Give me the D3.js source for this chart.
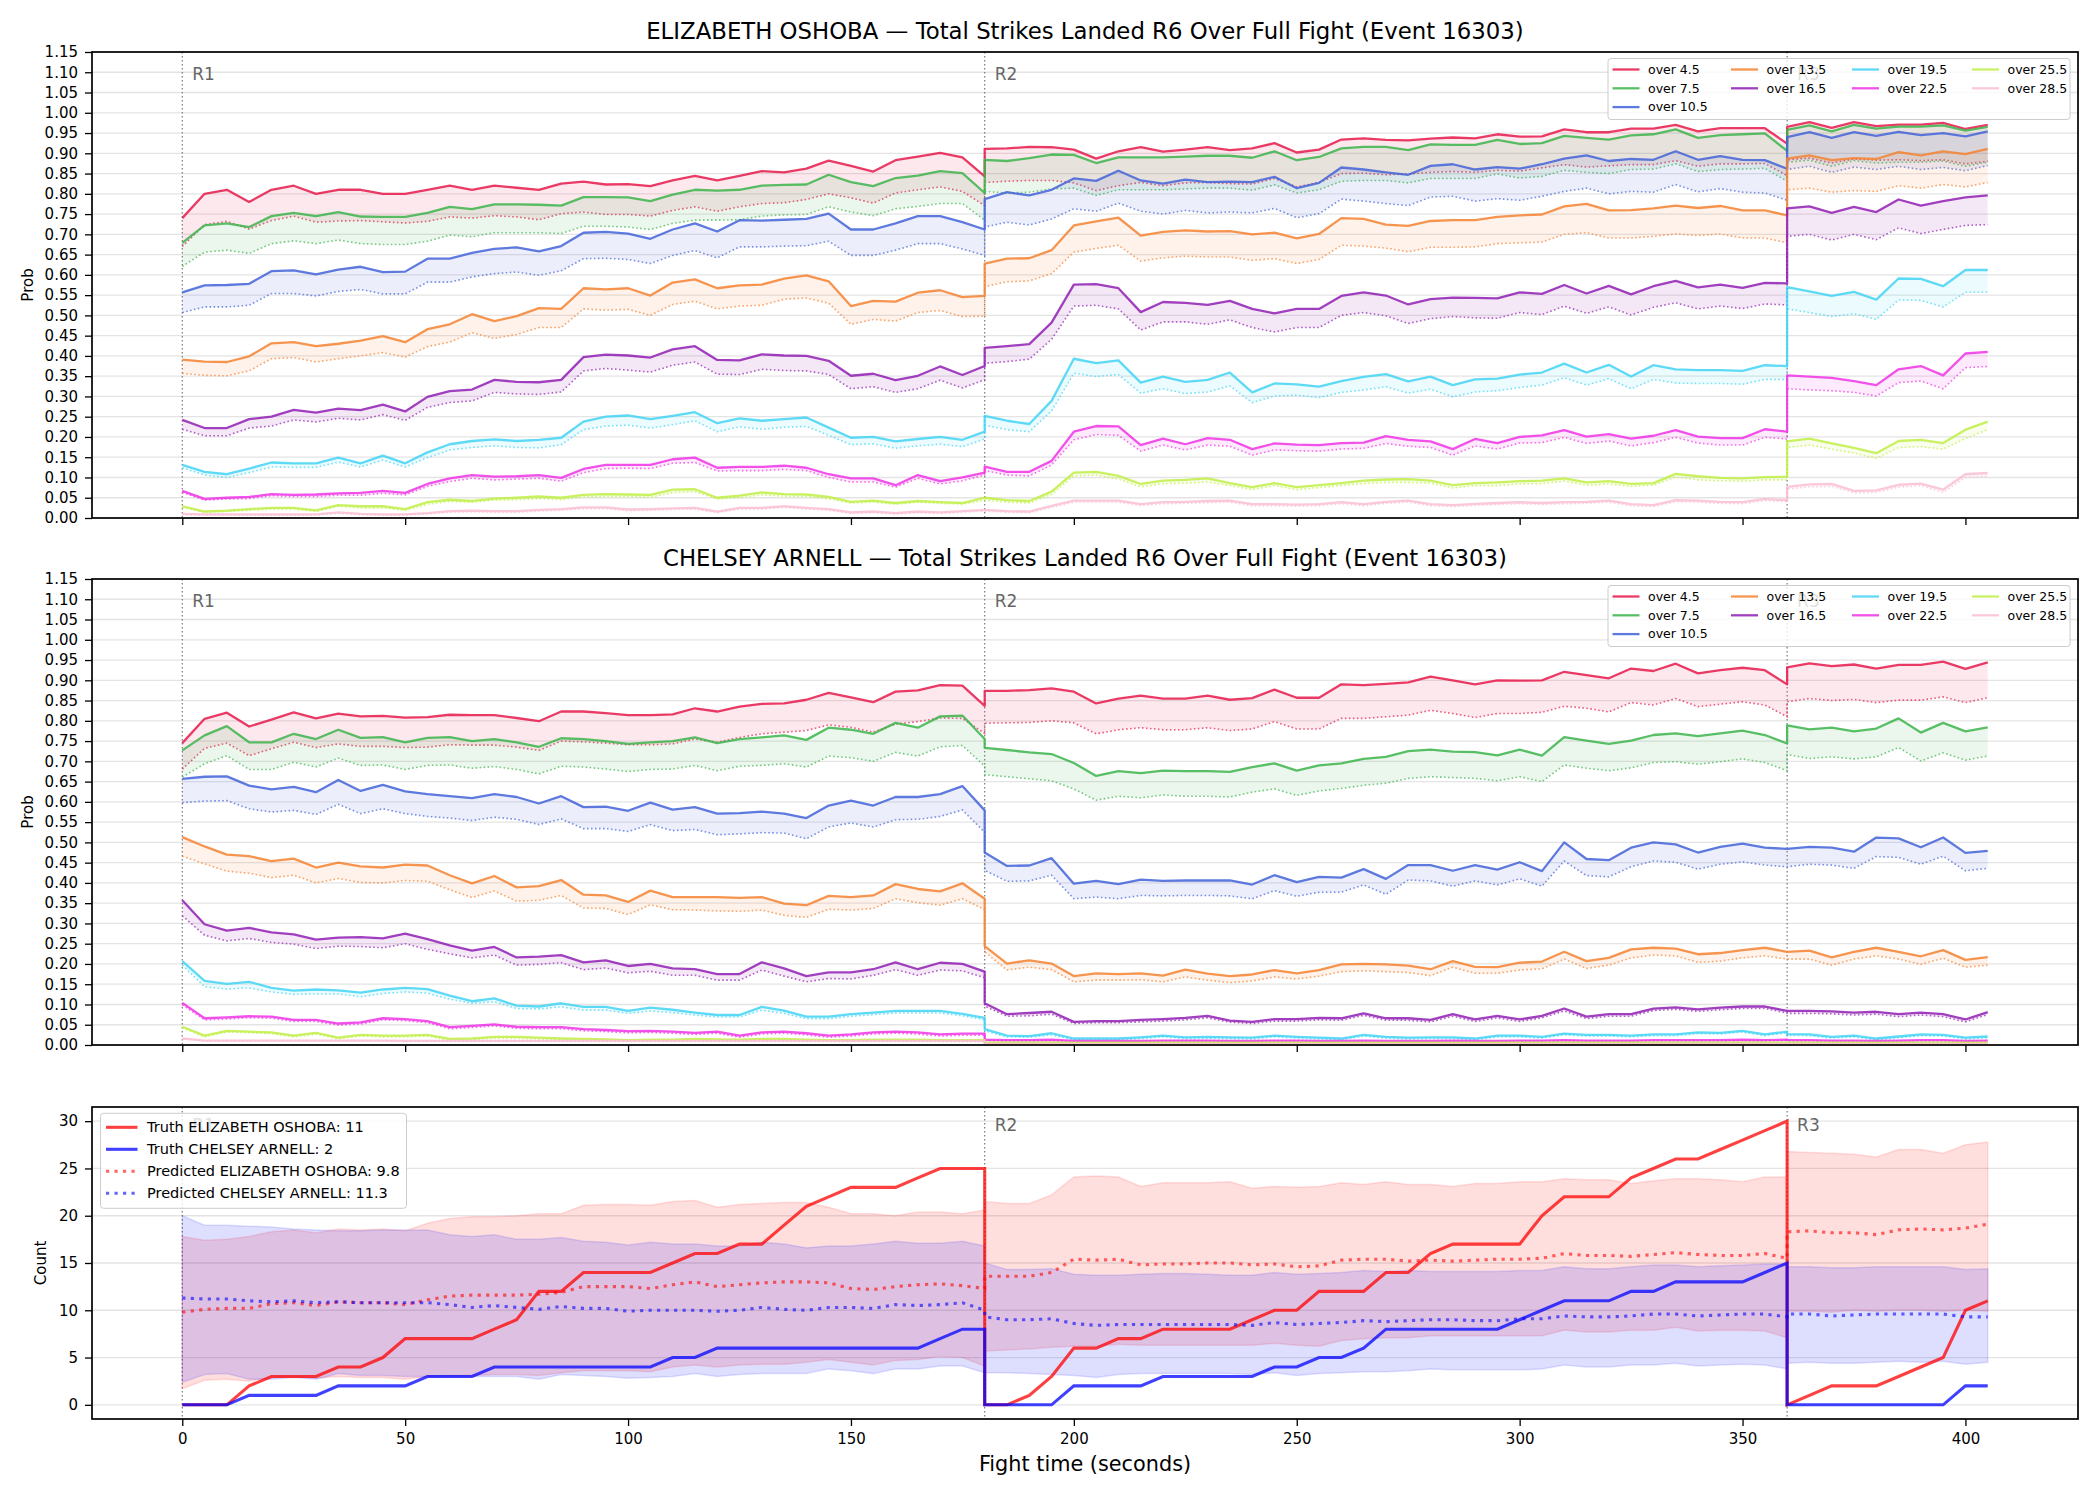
<!DOCTYPE html>
<html>
<head>
<meta charset="utf-8">
<script src="https://cdn.jsdelivr.net/npm/d3@7"></script>
<style>
  body { margin: 0; background: #fff; }
  svg { font-family: "DejaVu Sans", sans-serif; }
</style>
</head>
<body>
<svg id="chart" width="2100" height="1500"></svg>
<script>
// x positions (fight seconds), rounds share their boundary point
var times = [
  0,5,10,15,20,25,30,35,40,45,50,55,60,65,70,75,80,85,90,95,100,105,110,115,120,125,130,135,140,145,150,155,160,165,170,175,180,
  180,185,190,195,200,205,210,215,220,225,230,235,240,245,250,255,260,265,270,275,280,285,290,295,300,305,310,315,320,325,330,335,340,345,350,355,360,
  360,365,370,375,380,385,390,395,400,405];

var lineLabels = ["over 4.5","over 7.5","over 10.5","over 13.5","over 16.5","over 19.5","over 22.5","over 25.5","over 28.5"];
var lineColors = ["#e6194b","#3cb44b","#4363d8","#f58231","#911eb4","#42d4f4","#f032e6","#bfef45","#fabed4"];

var probTicks = [0,0.05,0.1,0.15,0.2,0.25,0.3,0.35,0.4,0.45,0.5,0.55,0.6,0.65,0.7,0.75,0.8,0.85,0.9,0.95,1,1.05,1.1,1.15];
var countTicks = [0,5,10,15,20,25,30];
var timeTicks = [0,50,100,150,200,250,300,350,400];
var roundStarts = [0,180,360];
var roundNames = ["R1","R2","R3"];

// ELIZABETH OSHOBA, probabilities in percent (solid and dotted lines)
var osh45 = [74,80,81,78,81,82,80,81,81,80, 80,81,82,81,82,81.5,81,82.5,83,82.3, 82.4,81.9,83.3,84.4,83.3,84.4,85.6,85.3,86.2,88.2, 86.9,85.5,88.3,89.2,90.1,89,84.3,
  91.1,91.2,91.6,91.5,90.9,88.7,90.5,91.5,90.4,90.9, 91.5,90.8,91.2,92.5,90.2,90.9,93.4,93.7,93.3,93.2, 93.6,93.9,93.7,94.7,94.1,94.2,95.9,95.2,95.2,96.1, 96.1,97,95.4,96.2,96.2,96.2,92.4,
  96.5,97.7,96.3,97.7,96.7,97.1,97.1,97.5,96,97];
var osh75 = [67.9,72.2,72.7,71.8,74.5,75.3,74.5,75.5,74.4,74.3, 74.3,75.3,76.8,76.2,77.4,77.4,77.3,77.1,79.2,79.2, 79.1,78.2,79.8,81,80.8,81,82,82.2,82.3,84.7, 82.9,81.9,83.9,84.5,85.6,85.1,80.2,
  88.4,88.1,88.8,89.7,89.6,87.6,89,89,89,89.2, 89.4,89.4,88.9,90.5,88.3,89.1,91.2,91.6,91.6,90.8, 92.2,92.1,92.1,93.3,92.3,92.5,94.3,93.8,93.4,94.4, 94.7,95.9,93.8,94.5,94.7,94.9,90.6,
  95.8,96.9,95.4,97,96.1,96.6,96.6,96.9,95.6,96.5];
var osh105 = [55.7,57.4,57.5,57.8,60.9,61.1,60.1,61.3,62,60.7, 60.8,64,64,65.4,66.4,66.8,65.8,67.1,70.4,70.6, 70.2,68.9,71.2,72.7,70.7,73.5,73.4,73.6,73.8,75.1, 71.2,71.2,72.7,74.5,74.5,73,71.2,
  78.7,80.4,79.6,81,83.8,83.2,85.7,83.3,82.5,83.5, 82.9,83,82.9,84.2,81.4,82.7,86.5,86,85.3,84.7, 86.9,87.3,86,86.6,86.2,87.3,88.7,89.5,88.1,88.6, 88.4,90.5,88.4,89.3,88.4,88.3,86.2,
  94,95.2,93.8,95.2,94.3,95.3,94.5,95,94.2,95.4];
var osh135 = [39.1,38.6,38.5,39.9,43.1,43.4,42.4,43,43.8,44.9, 43.4,46.6,47.8,50.3,48.6,49.8,51.8,51.6,56.7,56.4, 56.7,54.9,58.1,58.9,56.7,57.4,57.6,59.1,59.9,58.4, 52.3,53.6,53.4,55.6,56.2,54.5,54.8,
  62.8,64,64.1,66.1,72.2,73.2,74.1,69.7,70.6,71, 70.7,70.8,70,70.4,69,70.1,74,73.8,72.4,72.1, 73.3,73.5,73.5,74.3,74.7,74.9,76.9,77.5,75.9,76, 76.4,77.1,76.5,77,75.9,75.9,74.7,
  88.7,89.5,88.3,88.8,88.6,90.3,89.5,90.5,89.8,91.1];
var osh165 = [24.2,22.2,22.2,24.4,25,26.7,26,27,26.6,28, 26.3,29.9,31.3,31.7,34.1,33.6,33.5,34.1,39.7,40.3, 40.1,39.6,41.6,42.4,39,38.9,40.4,40.1,40,38.8, 35.1,35.6,34,35.1,37.4,35.3,37.5,
  42,42.4,42.9,48.2,57.6,57.7,56.7,50.8,53.3,53.1, 52.6,53.6,51.6,50.5,51.6,51.6,54.8,55.7,54.9,52.7, 54,54.4,54.3,54.2,55.7,55.3,57.5,55.4,57.3,55.2, 57.2,58.5,56.9,57.6,56.8,58,57.9,
  76.4,76.9,75.3,76.8,75.5,78.6,77.1,78.2,79.1,79.6];
var osh195 = [13.1,11.4,10.8,12.2,13.7,13.5,13.5,14.9,13.5,15.4, 13.5,16.2,18.2,19,19.4,19,19.3,19.8,23.8,25, 25.3,24.4,25.2,26.1,23.4,24.6,24,24.4,24.8,22.3, 19.8,20,18.9,19.5,20,19.3,21.3,
  25.2,24,23.2,28.9,39.3,38.2,38.9,33.4,34.9,33.6, 34.1,35.9,31,33.2,33,32.4,33.8,34.8,35.5,33.7, 34.9,32.8,34.2,34.4,35.4,35.9,38.1,35.9,37.8,34.9, 37.7,36.7,36.5,36.5,36.3,37.7,37.5,
  57,55.9,54.8,55.8,53.9,59.1,59,57.2,61.2,61.2];
var osh225 = [6.7,4.7,5,5.2,5.9,5.7,5.8,6.1,6.2,6.7, 6.2,8.4,9.8,10.6,10.2,10.3,10.6,9.9,12.1,13.1, 13.1,13.1,14.5,14.9,12.4,12.6,12.6,12.9,12.4,10.8, 9.8,9.8,8.1,10.6,9.1,10,11.2,
  12.7,11.4,11.4,14.1,21.3,22.7,22.6,18,19.6,18.2, 19.7,19.3,17,18.4,18.1,18,18.5,18.6,20.2,19.3, 18.9,17,19.5,18.5,20,20.4,21.7,20.1,20.7,19.6, 20.3,21.7,20.1,19.7,19.7,21.9,21.3,
  35.2,34.9,34.6,33.8,32.8,36.7,37.5,35.2,40.6,41];
var osh255 = [2.9,1.6,1.8,2.2,2.5,2.5,1.9,3.2,2.9,2.9, 2.2,3.9,4.5,4.2,4.8,5,5.3,5,5.7,5.9, 5.8,5.7,7,7.1,5,5.5,6.3,5.9,5.8,5.2, 4,4.3,3.7,4.2,3.9,3.7,5,
  5,4.4,4.2,6.5,11.2,11.4,10.4,8.4,9.2,9.4, 9.8,8.6,7.6,8.6,7.6,8.1,8.6,9.2,9.5,9.6, 9.2,8.1,8.6,8.8,9.1,9.2,9.8,8.8,9.1,8.4, 8.6,10.9,10.3,9.9,9.8,10.1,10.2,
  18.9,19.6,18.4,17.3,16,19,19.3,18.5,21.8,23.8];
var osh285 = [1,0.9,0.9,0.9,0.9,0.9,0.9,1.4,1,0.9, 0.9,1.2,1.7,1.8,1.7,1.7,2,2.2,2.6,2.6, 2.1,2.2,2.4,2.5,1.6,2.5,2.5,2.9,2.5,2.2, 1.4,1.6,1.2,1.6,1.4,1.7,2,
  2,1.7,1.6,3,4.3,4.3,4.3,3.4,3.9,4, 4.2,4.3,3.4,3.4,3.3,3.4,3.9,3.4,4,4.3, 3.4,3.2,3.5,3.7,3.9,3.7,3.9,4,4.3,3.4, 3.2,4.4,4.3,4,3.9,4.7,4.4,
  7.7,8.3,8.4,6.7,6.8,8.2,8.5,7,10.8,11.1];

var osh45dot = [67,72.4,73.2,71.3,73.4,74.5,73,73.3,73.4,73.1, 72.8,73.2,74.3,74,74.6,74.3,73.6,75.1,75.5,74.9, 74.9,74.5,75.9,76.8,75.7,76.8,77.6,77.8,78.6,80, 79,77.7,80.2,81,81.7,80.6,77.1,
  82.8,83.1,83.3,83.3,82.7,80.8,82,82.8,82,82.7, 82.8,82.5,82.4,83.8,81.7,82.8,85,85.1,84.7,84.9, 85.3,85.5,85.3,85.8,85.6,86.4,87.2,86.6,86.9,87.2, 87.2,88.2,86.8,87.4,87.4,87.5,84.5,
  88.4,88.8,87.6,88.6,88.3,88.4,88.2,88.4,87.4,88];
var osh75dot = [62.1,65.6,66.1,65.3,67.7,68.4,67.7,68.6,67.7,67.5, 67.5,68.3,69.8,69.4,70.4,70.4,70.4,70.2,72,72, 71.8,71.2,72.7,73.5,73.5,73.6,74.5,74.8,74.9,76.8, 75.5,74.6,76.3,76.9,77.6,77.6,73.5,
  80.6,80.2,80.4,81.2,81.4,79.6,81,81,81,81.2, 81.4,81.4,80.9,82.2,80.2,81,83.1,83.3,83.3,82.7, 83.8,83.8,83.8,84.9,83.9,84.3,85.8,85.3,85,86, 86.1,87.4,85.5,86,86.1,86.3,83.1,
  87.8,88.3,86.8,88.2,87.6,87.8,87.8,88.1,86.8,87.8];
var osh105dot = [50.7,52.1,52.1,52.5,55.4,55.4,54.8,55.9,56.4,55.3, 55.3,58.2,58.2,59.5,60.3,60.7,59.9,61,64,64.1, 63.8,62.8,64.8,66,64.2,66.9,66.9,67.1,67.2,68.3, 64.8,64.8,66.1,67.7,67.7,66.4,64.8,
  71.8,73,72.3,73.8,76.3,75.7,77.7,75.7,75,75.9, 75.3,75.5,75.3,76.4,74.1,75.1,78.7,78.2,77.6,77.1, 79.2,79.4,78.2,78.8,78.4,79.4,80.6,81.4,80,80.6, 80.4,82.3,80.5,81.3,80.4,80.2,78.4,
  86,86.8,85.3,86.6,86,86.8,86,86.5,85.7,87];
var osh135dot = [35.7,35.2,35.1,36.3,39.3,39.6,38.5,39.3,40,40.8, 39.7,42.3,43.4,45.7,44.3,45.3,47,47,51.6,51.3, 51.5,50,52.7,53.5,51.6,52.3,52.5,54,54.3,53, 47.8,49,48.6,50.7,51.2,49.7,49.8,
  57.1,58.3,58.5,60.3,65.6,66.5,67.3,63.4,64.2,64.6, 64.4,64.4,63.6,64,62.8,63.8,67.3,67.1,66.6,65.7, 66.8,66.8,66.9,67.7,67.9,68.1,70,70.4,69.1,69.1, 69.5,70.1,69.7,70.1,69.1,69.1,67.9,
  81,81.4,80.4,80.8,80.6,82,81.4,82.3,81.7,82.8];
var osh165dot = [21.9,20.3,20.3,22.2,22.7,24.2,23.7,24.6,24.2,25.5, 24.1,27.3,28.5,28.9,31,30.6,30.5,31.1,36.3,36.9, 36.5,36,37.7,38.5,35.5,35.4,36.7,36.4,36.3,35.4, 31.9,32.4,31,31.9,34,32.1,34.1,
  38.2,38.6,39.2,44.1,52.3,52.5,51.6,46.4,48.4,48.4, 47.8,48.9,47,45.9,47,47,50,50.7,49.9,48, 49.2,49.7,49.4,49.3,50.7,50.2,52.3,50.5,52.1,50.1, 52,53.1,51.6,52.3,51.7,52.8,52.6,
  69.5,70,68.6,70,68.7,71.6,70.2,71.2,72.2,72.4];
var osh195dot = [12.4,10.6,10,11.2,12.6,12.5,12.5,13.8,12.6,14.3, 12.6,14.9,16.8,17.4,17.8,17.4,17.3,18.1,21.8,22.7, 22.9,22.2,23,24,21.3,22.5,21.9,22.4,22.6,20.4, 18.1,18.3,17.2,17.8,18.2,17.6,19.5,
  22.9,21.8,21.3,26.4,35.7,34.9,35.4,30.8,31.9,30.7, 31.1,32.6,28.5,30.1,30.3,29.7,31,31.6,32.4,30.8, 31.8,29.9,31.1,31.4,32.2,32.8,34.6,32.8,34.4,31.9, 34.2,33.3,33.2,33.2,33,34.2,34.2,
  51.6,50.7,49.7,50.4,49,53.8,53.7,52.1,55.7,55.7];
var osh225dot = [6.3,4.4,4.7,4.8,5.5,5.3,5.3,5.6,5.6,6.1, 5.7,7.8,9,9.8,9.4,9.6,9.8,9.1,11.2,12.2, 12.3,12.2,13.5,13.7,11.6,11.7,11.7,12,11.7,10, 8.9,8.9,7.6,9.8,8.4,9.2,10.6,
  11.7,10.6,10.4,13.1,19.3,20.6,20.4,16.5,18,16.8, 18,17.7,15.5,16.8,16.6,16.5,17,17.2,18.4,17.7, 17.4,15.5,17.8,17,18.5,18.6,19.9,18.4,19,17.8, 18.6,19.9,18.5,18,18,19.9,19.5,
  31.9,31.6,31.4,31,30.1,33.4,33.8,31.9,37.1,37.4];
var osh255dot = [2.6,1.4,1.6,1.9,2.2,2.2,1.6,2.9,2.5,2.5, 1.9,3.4,4.1,3.9,4.4,4.5,4.8,4.5,5.2,5.3, 5.3,5.1,6.3,6.5,4.7,5,5.7,5.4,5.3,4.7, 3.7,3.9,3.4,3.9,3.6,3.4,4.4,
  4.4,3.9,3.7,5.8,10.4,10.6,9.6,7.7,8.5,8.6, 8.9,8,7,8,7,7.5,8,8.5,8.8,8.8, 8.6,7.4,8,8,8.4,8.5,9.1,8.1,8.4,7.8, 8.1,10.1,9.4,9.2,9.1,9.4,9.4,
  17.4,18,17,16,14.7,17.4,17.6,17,19.6,21.8];
var osh285dot = [0.8,0.7,0.7,0.7,0.7,0.7,0.7,1.1,0.8,0.7, 0.7,1,1.4,1.5,1.4,1.4,1.7,1.9,2.3,2.3, 1.8,1.9,2.1,2.2,1.3,2.2,2.2,2.6,2.2,1.9, 1.1,1.3,0.9,1.3,1.1,1.4,1.7,
  1.7,1.4,1.3,2.6,3.9,3.9,3.9,3,3.5,3.6, 3.8,3.9,3,3,2.9,3,3.5,3,3.6,3.9, 3,2.8,3.1,3.3,3.5,3.3,3.5,3.6,3.9,3, 2.8,4,3.9,3.6,3.5,4.3,4,
  7.1,7.7,7.8,6.2,6.3,7.6,8,6.3,10,10.3];

// CHELSEY ARNELL, probabilities in percent
var arn45 = [74.5,80.5,82,78.6,80.3,82.1,80.6,81.8,81.1,81.2, 80.8,80.9,81.5,81.4,81.4,80.7,79.9,82.3,82.3,81.9, 81.4,81.4,81.6,83.1,82.3,83.5,84.2,84.3,85.2,86.9, 85.8,84.6,87.2,87.5,88.8,88.7,83.7,
  87.4,87.4,87.6,88,87.2,84.3,85.5,86.2,85.5,85.5, 86.2,85.2,85.6,87.7,85.7,85.7,89,88.8,89.1,89.5, 90.9,90,89,90,89.9,90,92.1,91.3,90.5,92.9, 92.3,94.1,91.7,92.5,93.1,92.5,89,
  93.2,94.2,93.5,93.9,92.9,93.8,93.8,94.6,92.8,94.4];
var arn75 = [72.7,76.4,78.7,74.7,74.7,76.8,75.5,77.8,75.8,76, 74.7,75.8,76,75,75.5,74.7,73.6,75.7,75.5,75, 74.3,74.7,75,75.9,74.5,75.5,75.9,76.4,75.3,78.3, 77.8,76.8,79.5,78.3,81.1,81.3,75.5,
  73.3,72.8,72.2,71.8,69.6,66.4,67.6,67.1,67.7,67.6, 67.6,67.4,68.6,69.5,67.7,69,69.5,70.6,71.1,72.5, 72.9,72.4,72.3,71.5,72.9,71.4,76,75.1,74.3,75.1, 76.5,76.9,76.2,76.9,77.6,76.5,74.4,
  78.9,77.9,78.3,77.4,78.1,80.6,77.1,79.5,77.4,78.4];
var arn105 = [65.7,66.2,66.3,64,63.1,63.7,62.4,65.4,62.7,64.2, 62.6,61.9,61.4,60.9,61.9,61.2,59.6,61.4,58.7,58.8, 57.8,59.8,58.1,58.7,57.1,57.2,57.6,57.1,56,59.1, 60.3,59.1,61.2,61.2,61.9,63.9,57.9,
  47.5,44.2,44.3,46.1,39.8,40.5,39.7,40.8,40.5,40.6, 40.6,40.6,39.6,41.9,40.2,41.5,41.3,43.4,41,44.4, 44.4,43,44.4,43.3,45.1,42.9,50,45.9,45.6,48.7, 50,49.5,47.5,48.9,49.7,48.7,48.4,
  48.4,48.9,48.7,47.7,51.2,51,48.8,51.2,47.4,47.9];
var arn135 = [51.3,49,47,46.6,45.4,46,43.8,45,44.1,43.8, 44.5,44.3,41.9,39.9,41.7,38.9,39.2,40.7,37.1,36.9, 35.3,38.1,36.5,36.5,36.5,36.3,36.5,34.9,34.5,36.8, 36.5,36.9,39.7,38.5,37.9,39.9,36.1,
  24.4,20.1,20.9,20.1,17,17.7,17.5,17.7,17.1,18.6, 17.6,17,17.4,18.5,17.7,18.5,19.9,20,19.9,19.6, 18.7,20.7,19.3,19.2,20.3,20.6,23,20.7,21.5,23.6, 24,23.8,22.4,22.7,23.4,24,23,
  23,23.3,21.6,23,24,23,21.9,23.4,21,21.7];
var arn165 = [35.7,29.8,28.2,28.9,27.8,27.3,26,26.5,26.6,26.3, 27.5,26.1,24.6,23.3,24.2,21.6,21.8,22.2,20.4,20.9, 19.5,20,18.9,18.7,17.5,17.5,20.4,18.9,17,17.9, 17.9,18.7,20.4,18.7,20.3,20,18.1,
  10.3,7.6,7.9,8.2,5.7,5.9,5.9,6.2,6.4,6.7, 7.2,6,5.7,6.4,6.4,6.7,6.6,7.8,6.6,6.6, 6.2,7.6,6.3,7.2,6.3,7.2,9,7,7.6,7.6, 9,9.3,8.8,9.2,9.5,9.5,8.4,
  8.4,8.4,8.3,8,8.2,7.6,8,7.6,6.3,8.1];
var arn195 = [20.7,15.8,15.1,15.6,14.1,13.4,13.7,13.5,12.9,13.7, 14.1,13.8,12.2,10.8,11.5,9.7,9.5,10.3,9.4,9.4, 8.4,9.2,8.7,8,7.4,7.4,9.4,8.5,7,7, 7.6,8,8.4,8.4,8.4,7.7,6.7,
  3.9,2.3,2.2,2.9,1.6,1.6,1.6,1.9,2.3,1.9, 2,1.9,1.8,2.3,2,1.8,1.6,2.5,2,1.8, 1.9,1.9,1.6,2.3,2.3,2,2.8,2.5,2.5,2.3, 2.6,2.6,3.1,3,3.5,2.6,3.3,
  2.7,2.6,2,2.3,1.6,2.1,2.6,2.5,1.8,2.1];
var arn225 = [10.4,6.6,6.8,7.1,7,6.2,6.2,5.3,5.6,6.6, 6.4,5.9,4.4,4.7,5.1,4.5,4.4,4.4,3.9,3.7, 3.4,3.5,3.3,3,3.3,2.3,3.1,3.3,2.9,2.3, 2.6,3.1,3.3,3.1,2.6,2.8,2.8,
  1.3,1.2,1.2,1.3,1,1,1,1,1.1,1.1, 1.1,1,1,1.1,1.1,1,1,1.1,1,1, 1,1.1,1,1,1.1,1.1,1.2,1.1,1.1,1.1, 1.2,1.2,1.2,1.2,1.3,1.2,1.3,
  1.2,1.2,1.1,1.1,1,1.1,1.2,1.2,1,1.1];
var arn255 = [4.5,2.3,3.5,3.3,3.1,2.3,3,1.8,2.5,2.3, 2.3,2.5,1.5,1.6,2,2,1.8,1.6,1.5,1.4, 1.2,1.3,1.3,1.5,1.4,1.3,1.5,1.5,1.3,1.2, 1.2,1.3,1.3,1.3,1.2,1.2,1.2,
  0.6,0.6,0.6,0.6,0.6,0.6,0.6,0.6,0.6,0.6, 0.6,0.6,0.6,0.6,0.6,0.6,0.6,0.6,0.6,0.6, 0.6,0.6,0.6,0.6,0.6,0.6,0.6,0.6,0.6,0.6, 0.6,0.6,0.6,0.6,0.6,0.6,0.6,
  0.6,0.6,0.6,0.6,0.6,0.6,0.6,0.6,0.6,0.6];
var arn285 = [1.6,1.1,1.1,1.1,1.1,1.1,1.1,1.1,1.1,1.1, 1,1,1,1,1,1,1,1,1,1, 1,1,1,1,1,1,1,1,1,1, 1,1,1,1,1,1,1,
  0.3,0.3,0.3,0.3,0.3,0.3,0.3,0.3,0.3,0.3, 0.3,0.3,0.3,0.3,0.3,0.3,0.3,0.3,0.3,0.3, 0.3,0.3,0.3,0.3,0.3,0.3,0.3,0.3,0.3,0.3, 0.3,0.3,0.3,0.3,0.3,0.3,0.3,
  0.3,0.3,0.3,0.3,0.3,0.3,0.3,0.3,0.3,0.3];

var arn45dot = [68.1,73.2,74.5,71.4,73.1,74.7,73.4,74.3,73.7,73.7, 73.4,73.5,74.1,74,74,73.5,72.7,75,74.8,74.5, 74.1,74.1,74.3,75.5,74.7,75.9,76.8,77.2,77.6,79, 78.4,77.2,79.2,79.8,80.7,80.6,76.9,
  79.4,79.5,79.6,80,79.5,76.8,77.8,78.3,77.8,77.8, 78.3,77.6,78,79.8,78,78,80.6,80.6,81,81.4, 82.6,81.8,80.8,81.8,81.8,82.1,83.6,83.1,82.2,84.5, 83.9,85.5,83.5,84.1,84.7,83.9,81,
  84.7,85.5,85,85.3,84.5,85.1,85.1,85.9,84.5,85.7];
var arn75dot = [66.1,69.4,71.4,68,68,69.8,68.6,70.8,69,69.1, 68,69,69.1,68.3,68.7,68,66.9,68.8,68.6,68.1, 67.5,68,68.1,69,67.7,68.8,69,69.4,68.6,71.3, 70.9,70,72.2,71.3,73.6,73.9,68.8,
  66.7,66.2,65.7,65.2,63.2,60.4,61.4,61,61.7,61.4, 61.4,61.2,62.4,63.2,61.6,62.7,63.3,64.1,64.6,65.8, 66.2,66,65.8,65.2,66.2,65,69.1,68.3,67.7,68.4, 69.7,69.9,69.3,69.9,70.6,69.7,67.7,
  71.7,70.7,71.1,70.6,71.1,73.4,70.1,72.1,70.3,71.3];
var arn105dot = [59.8,60.2,60.3,58.3,57.5,57.9,56.9,59.4,57.1,58.3, 57.1,56.4,56,55.4,56.2,55.7,54.4,55.8,53.4,53.4, 52.7,54.4,52.9,53.2,51.9,52.1,52.4,52.3,50.9,53.8, 54.8,53.8,55.6,55.7,56.4,58,52.5,
  43.1,40.4,40.5,41.9,36.1,36.5,36.1,36.9,36.8,36.9, 36.9,36.8,36.1,38.1,36.7,37.7,37.7,39.5,37.2,40.7, 40.5,39.2,40.5,39.5,41,39.2,45.4,41.8,41.5,44, 45.4,45.1,43.4,44.6,45.2,44.4,44,
  44,44.6,44.4,43.6,46.5,46.3,44.6,46.6,43,43.6];
var arn135dot = [46.6,44.7,42.9,42.4,41.3,41.9,40,41.1,40.1,40, 40.6,40.4,38.3,36.4,38,35.5,35.7,36.9,33.8,33.7, 32.2,34.6,33.4,33.3,33.1,33,33.3,32,31.5,33.5, 33.3,33.7,36.1,35.1,34.5,36.1,33.4,
  23,18.5,19.2,18.6,15.6,16,16,16.1,15.6,16.8, 16,15.4,15.8,16.8,16.3,17,18.1,18.3,18.1,17.9, 17.1,19.2,17.7,17.7,18.5,18.8,21.2,18.9,19.7,21.5, 22.2,22,20.4,20.7,21.5,22,21.2,
  21.2,21.2,19.7,21.2,22,21.2,19.9,21.4,19.2,19.7];
var arn165dot = [31.9,27.1,25.7,26.3,25.3,24.9,23.8,24.4,24.3,24, 25,23.6,22.5,21.5,22.2,19.7,19.9,20.3,18.6,19, 17.8,18.2,17.2,17.2,16,16,18.5,17,15.6,16.4, 16.3,17.2,18.6,17.2,18.5,18.3,16.6,
  9.6,7.1,7.2,7.6,5.3,5.5,5.5,5.7,5.9,6.2, 6.7,5.6,5.3,5.9,5.9,6.2,6.1,7.3,6.1,6.1, 5.7,7.1,5.8,6.7,5.8,6.7,8.4,6.5,7.1,7.1, 8.5,8.8,8.3,8.7,9,9,7.9,
  7.8,7.8,7.7,7.4,7.6,7,7.4,7,5.7,7.5];
var arn195dot = [19.7,14.4,13.8,14.1,13.1,12.5,12.6,12.6,11.9,12.7, 13.1,12.8,11.3,10.3,10.7,9,8.9,9.4,8.6,8.6, 7.8,8.4,8,7.4,6.9,6.9,8.6,7.8,6.5,6.5, 7.1,7.5,7.9,7.9,7.9,7.2,6.2,
  3.5,2,1.9,2.5,1.3,1.3,1.3,1.6,2,1.6, 1.7,1.6,1.5,2,1.7,1.5,1.3,2.2,1.7,1.5, 1.6,1.6,1.3,2,2,1.7,2.5,2.2,2.2,2, 2.3,2.3,2.8,2.7,3.2,2.3,3,
  2.4,2.3,1.7,2,1.3,1.8,2.3,2.2,1.5,1.8];
var arn225dot = [9.9,6.2,6.4,6.7,6.6,5.8,5.8,4.9,5.2,6.2, 6,5.5,4,4.3,4.7,4.1,4,4,3.5,3.3, 3,3.1,2.9,2.6,2.9,1.9,2.7,2.9,2.5,1.9, 2.2,2.7,2.9,2.7,2.2,2.4,2.4,
  1.1,1,1,1.1,0.8,0.8,0.8,0.8,0.9,0.9, 0.9,0.8,0.8,0.9,0.9,0.8,0.8,0.9,0.8,0.8, 0.8,0.9,0.8,0.8,0.9,0.9,1,0.9,0.9,0.9, 1,1,1,1,1.1,1,1.1,
  1,1,0.9,0.9,0.8,0.9,1,1,0.8,0.9];
var arn255dot = [4.2,2,3.2,3,2.8,2,2.7,1.5,2.2,2, 2,2.2,1.2,1.3,1.7,1.7,1.5,1.3,1.2,1.1, 0.9,1,1,1.2,1.1,1,1.2,1.2,1,0.9, 0.9,1,1,1,0.9,0.9,0.9,
  0.4,0.4,0.4,0.4,0.4,0.4,0.4,0.4,0.4,0.4, 0.4,0.4,0.4,0.4,0.4,0.4,0.4,0.4,0.4,0.4, 0.4,0.4,0.4,0.4,0.4,0.4,0.4,0.4,0.4,0.4, 0.4,0.4,0.4,0.4,0.4,0.4,0.4,
  0.4,0.4,0.4,0.4,0.4,0.4,0.4,0.4,0.4,0.4];
var arn285dot = [1.5,1,1,1,1,1,1,1,1,1, 0.9,0.9,0.9,0.9,0.9,0.9,0.9,0.9,0.9,0.9, 0.9,0.9,0.9,0.9,0.9,0.9,0.9,0.9,0.9,0.9, 0.9,0.9,0.9,0.9,0.9,0.9,0.9,
  0.2,0.2,0.2,0.2,0.2,0.2,0.2,0.2,0.2,0.2, 0.2,0.2,0.2,0.2,0.2,0.2,0.2,0.2,0.2,0.2, 0.2,0.2,0.2,0.2,0.2,0.2,0.2,0.2,0.2,0.2, 0.2,0.2,0.2,0.2,0.2,0.2,0.2,
  0.2,0.2,0.2,0.2,0.2,0.2,0.2,0.2,0.2,0.2];

// counts panel
var truthOsh = [0,0,0,2,3,3,3,4,4,5, 7,7,7,7,8,9,12,12,14,14, 14,14,15,16,16,17,17,19,21,22, 23,23,23,24,25,25,25,
  0,0,1,3,6,6,7,7,8,8, 8,8,9,10,10,12,12,12,14,14, 16,17,17,17,17,20,22,22,22,24, 25,26,26,27,28,29,30,
  0,1,2,2,2,3,4,5,10,11];
var truthArn = [0,0,0,1,1,1,1,2,2,2, 2,3,3,3,4,4,4,4,4,4, 4,4,5,5,6,6,6,6,6,6, 6,6,6,6,7,8,8,
  0,0,0,0,2,2,2,2,3,3, 3,3,3,4,4,5,5,6,8,8, 8,8,8,8,9,10,11,11,11,12, 12,13,13,13,13,14,15,
  0,0,0,0,0,0,0,0,2,2];
var predOsh = [9.8,10.1,10.2,10.2,10.7,10.8,10.5,10.9,10.8,10.8, 10.6,11.1,11.5,11.6,11.6,11.6,11.7,11.9,12.5,12.5, 12.5,12.3,12.7,13,12.5,12.7,12.9,13,13,12.9, 12.3,12.2,12.5,12.7,12.8,12.6,12.3,
  13.6,13.6,13.6,14,15.4,15.3,15.4,14.8,14.9,14.9, 15,15,14.8,14.9,14.6,14.7,15.3,15.4,15.4,15.2, 15.3,15.2,15.3,15.4,15.4,15.5,16,15.8,15.8,15.7, 15.9,16.1,15.9,15.8,15.8,16,15.5,
  18.3,18.4,18.2,18.2,18,18.5,18.6,18.5,18.7,19.1];
var predArn = [11.3,11.2,11.2,11,10.9,11,10.8,10.9,10.8,10.8, 10.8,10.8,10.6,10.3,10.5,10.3,10.1,10.4,10.2,10.2, 9.9,10,10,10,9.9,10,10.3,10.1,10,10.3, 10.3,10.2,10.6,10.5,10.6,10.8,10,
  9.3,9,9,9.1,8.6,8.4,8.5,8.5,8.5,8.5, 8.5,8.5,8.4,8.7,8.5,8.6,8.7,8.9,8.8,8.9, 9,9,8.9,8.9,9.1,9.1,9.4,9.3,9.3,9.4, 9.6,9.6,9.4,9.5,9.6,9.6,9.3,
  9.6,9.6,9.4,9.5,9.6,9.6,9.6,9.6,9.3,9.3];
var hiOsh = [17.8,17.4,17.5,17.8,18.3,18.5,18.2,18.6,18.5,18.6, 18.4,19.2,19.7,19.9,19.9,20,20.2,20.2,21.1,21.2, 21.2,21.1,21.5,21.6,20.9,21.2,21.3,21.4,21.4,20.9, 20.2,20.2,20,20.4,20.4,20.2,20.6,
  21.5,21.3,21.3,22.2,24.1,24.2,24.1,23.1,23.5,23.5, 23.5,23.6,22.9,23.1,23,23.1,23.5,23.3,23.6,23.3, 23.3,23.1,23.4,23.4,23.6,23.6,23.9,23.8,23.8,23.4, 23.7,23.9,23.9,23.8,23.6,24.1,24.1,
  26.8,26.7,26.6,26.5,26.2,27,27,26.6,27.5,27.8];
var loOsh = [1.7,2.6,2.7,2.5,2.9,3,2.8,3,2.9,2.9, 2.7,3,3.1,3.1,3.2,3.2,3.1,3.4,3.6,3.6, 3.6,3.5,4,4.2,4,4.2,4.3,4.3,4.5,4.8, 4.5,4.2,4.7,4.8,5.1,5,4.1,
  5.7,5.8,5.9,6.1,6.2,6.2,6.4,6.3,6.3,6.3, 6.3,6.3,6.3,6.5,6.3,6.2,6.8,7,7.1,7.1, 7.3,7.3,7.3,7.3,7.3,7.3,7.9,7.7,7.7,7.9, 7.9,8.2,7.8,7.9,7.9,7.8,7.1,
  9.9,9.9,9.8,10,9.9,10,10,9.9,10,9.9];
var hiArn = [20,19,19,18.9,18.8,18.6,18.5,18.4,18.4,18.5, 18.5,18.5,18,17.8,18,17.5,17.5,17.7,17.3,17.2, 16.9,17.2,17,17,16.8,16.8,17.2,17,16.6,16.8, 16.8,17,17.3,17.1,17.1,17.3,16.8,
  15,14.3,14.3,14.4,13.8,13.7,13.7,13.8,13.9,13.9, 13.8,13.7,13.7,14,13.8,13.9,14,14.2,14.1,14.2, 14.1,14.1,14.1,14.1,14.2,14.2,14.6,14.4,14.4,14.6, 14.8,14.8,14.6,14.7,14.8,14.9,14.9,
  14.6,14.6,14.5,14.5,14.6,14.6,14.6,14.6,14.3,14.4];
var loArn = [2.4,3.2,3.3,2.7,2.7,2.9,2.7,3.3,3.1,3.1, 3,3,3,3,3,3,2.7,3.2,3.1,3, 2.8,2.9,3,3.3,3,3.2,3.3,3.3,3.3,3.8, 3.6,3.3,3.8,3.8,4.1,4.1,3.4,
  3.4,3.4,3.3,3.2,3.1,2.9,3.2,3.3,3.3,3.3, 3.3,3.3,3.2,3.4,3.1,3.3,3.4,3.5,3.5,3.6, 3.8,3.7,3.7,3.7,3.7,3.8,4.2,4,4,4.2, 4.2,4.4,4.1,4.2,4.3,4.2,3.8,
  4.4,4.5,4.4,4.4,4.5,4.6,4.5,4.6,4.3,4.5];

var oshSolid = [osh45, osh75, osh105, osh135, osh165, osh195, osh225, osh255, osh285];
var oshDotted = [osh45dot, osh75dot, osh105dot, osh135dot, osh165dot, osh195dot, osh225dot, osh255dot, osh285dot];
var arnSolid = [arn45, arn75, arn105, arn135, arn165, arn195, arn225, arn255, arn285];
var arnDotted = [arn45dot, arn75dot, arn105dot, arn135dot, arn165dot, arn195dot, arn225dot, arn255dot, arn285dot];

//Layout
var left = 92, right = 2078;
var svg = d3.select("#chart");
var x = d3.scaleLinear().domain([-20.25, 425.25]).range([left, right]);

function styleAxis(g) {
  g.select(".domain").remove();
  g.selectAll(".tick line").attr("stroke", "#000").attr("stroke-width", 1.3);
  g.selectAll(".tick text").attr("font-size", 15).attr("fill", "#000")
    .attr("font-family", "DejaVu Sans, sans-serif");
}

function drawGrid(g, y, ticks) {
  g.selectAll("line.grid").data(ticks).enter().append("line")
    .attr("class", "grid")
    .attr("x1", left).attr("x2", right)
    .attr("y1", d => y(d)).attr("y2", d => y(d))
    .attr("stroke", "#e4e4e4").attr("stroke-width", 1.3);
}

function drawRoundLines(g, top, bottom) {
  g.selectAll("line.round").data(roundStarts).enter().append("line")
    .attr("class", "round")
    .attr("x1", d => x(d)).attr("x2", d => x(d))
    .attr("y1", top).attr("y2", bottom)
    .attr("stroke", "#777").attr("stroke-width", 1.2)
    .attr("stroke-dasharray", "1.5,2.5");
}

function drawRoundLabels(g, yPos) {
  g.selectAll("text.rlabel").data(roundStarts).enter().append("text")
    .attr("x", d => x(d) + 10).attr("y", yPos)
    .attr("font-size", 17).attr("fill", "#666")
    .text((d, i) => roundNames[i]);
}

function drawFrame(g, top, bottom) {
  g.append("rect").attr("x", left).attr("y", top)
    .attr("width", right - left).attr("height", bottom - top)
    .attr("fill", "none").attr("stroke", "#000").attr("stroke-width", 1.7);
}

function probPanel(top, bottom, title, solid, dotted) {
  var y = d3.scaleLinear().domain([0, 1.15]).range([bottom, top]);
  var g = svg.append("g");
  drawGrid(g, y, probTicks);
  drawRoundLines(g, top, bottom);

  for (let i = 0; i < solid.length; i++) {
    var area = d3.area()
      .x((d, j) => x(times[j]))
      .y0((d, j) => y(dotted[i][j] / 100))
      .y1(d => y(d / 100));
    g.append("path").datum(solid[i]).attr("d", area)
      .attr("fill", lineColors[i]).attr("fill-opacity", 0.1);

    var line = d3.line().x((d, j) => x(times[j])).y(d => y(d / 100));
    g.append("path").datum(solid[i]).attr("d", line)
      .attr("fill", "none").attr("stroke", lineColors[i])
      .attr("stroke-opacity", 0.85).attr("stroke-width", 2.3)
      .attr("stroke-linejoin", "round");
    g.append("path").datum(dotted[i]).attr("d", line)
      .attr("fill", "none").attr("stroke", lineColors[i])
      .attr("stroke-opacity", 0.7).attr("stroke-width", 1.6)
      .attr("stroke-dasharray", "1.6,2.4");
  }

  g.append("g").attr("transform", "translate(" + left + ",0)")
    .call(d3.axisLeft(y).tickValues(probTicks).tickFormat(d3.format(".2f")).tickSize(7).tickPadding(7))
    .call(styleAxis);
  g.append("g").attr("transform", "translate(0," + bottom + ")")
    .call(d3.axisBottom(x).tickValues(timeTicks).tickFormat("").tickSize(7))
    .call(styleAxis);
  drawFrame(g, top, bottom);
  drawRoundLabels(g, y(1.08));

  // legend, 4 columns filled column by column
  var lx = right - 8 - 462, ly = top + 6.5;
  var lg = g.append("g");
  lg.append("rect").attr("x", lx).attr("y", ly).attr("width", 462).attr("height", 61)
    .attr("rx", 3).attr("fill", "#fff").attr("fill-opacity", 0.8)
    .attr("stroke", "#ccc").attr("stroke-width", 1);
  var colStart = [0, 3, 5, 7];
  var colX = [4.5, 123, 244, 364];
  lineLabels.forEach(function(lab, i) {
    var col = i < 3 ? 0 : (i < 5 ? 1 : (i < 7 ? 2 : 3));
    var row = i - colStart[col];
    var hx = lx + colX[col], hy = ly + 11 + row * 18.8;
    lg.append("line").attr("x1", hx).attr("x2", hx + 27).attr("y1", hy).attr("y2", hy)
      .attr("stroke", lineColors[i]).attr("stroke-opacity", 0.85).attr("stroke-width", 2.3);
    lg.append("text").attr("x", hx + 35.5).attr("y", hy).attr("dy", "0.35em")
      .attr("font-size", 12.5).attr("fill", "#000").text(lab);
  });

  svg.append("text").attr("x", (left + right) / 2).attr("y", top - 13)
    .attr("text-anchor", "middle").attr("font-size", 22.8).attr("fill", "#000").text(title);
  svg.append("text").attr("transform", "translate(28," + ((top + bottom) / 2) + ") rotate(-90)")
    .attr("text-anchor", "middle").attr("dy", "0.35em").attr("font-size", 15).text("Prob");
}

probPanel(52, 518, "ELIZABETH OSHOBA \u2014 Total Strikes Landed R6 Over Full Fight (Event 16303)", oshSolid, oshDotted);
probPanel(579, 1045, "CHELSEY ARNELL \u2014 Total Strikes Landed R6 Over Full Fight (Event 16303)", arnSolid, arnDotted);

// counts panel
(function() {
  var top = 1107, bottom = 1419;
  var y = d3.scaleLinear().domain([-1.5, 31.5]).range([bottom, top]);
  var g = svg.append("g");
  drawGrid(g, y, countTicks);
  drawRoundLines(g, top, bottom);

  var bands = [[hiOsh, loOsh, "#ff0000"], [hiArn, loArn, "#0000ff"]];
  bands.forEach(function(b) {
    var area = d3.area().x((d, j) => x(times[j])).y0((d, j) => y(b[1][j])).y1(d => y(d));
    g.append("path").datum(b[0]).attr("d", area)
      .attr("fill", b[2]).attr("fill-opacity", 0.13)
      .attr("stroke", b[2]).attr("stroke-opacity", 0.12).attr("stroke-width", 1.5);
  });

  var line = d3.line().x((d, j) => x(times[j])).y(d => y(d));
  var series = [
    [truthOsh, "#ff0000", 0.75, null],
    [truthArn, "#0000ff", 0.75, null],
    [predOsh, "#ff0000", 0.6, "3.2,5.3"],
    [predArn, "#0000ff", 0.6, "3.2,5.3"]
  ];
  series.forEach(function(s) {
    g.append("path").datum(s[0]).attr("d", line)
      .attr("fill", "none").attr("stroke", s[1]).attr("stroke-opacity", s[2])
      .attr("stroke-width", 3.1).attr("stroke-dasharray", s[3]);
  });

  g.append("g").attr("transform", "translate(" + left + ",0)")
    .call(d3.axisLeft(y).tickValues(countTicks).tickSize(7).tickPadding(7))
    .call(styleAxis);
  g.append("g").attr("transform", "translate(0," + bottom + ")")
    .call(d3.axisBottom(x).tickValues(timeTicks).tickSize(7).tickPadding(7))
    .call(styleAxis);
  drawFrame(g, top, bottom);
  drawRoundLabels(g, y(29));

  var legendItems = [
    ["Truth ELIZABETH OSHOBA: 11", "#ff0000", 0.75, null],
    ["Truth CHELSEY ARNELL: 2", "#0000ff", 0.75, null],
    ["Predicted ELIZABETH OSHOBA: 9.8", "#ff0000", 0.6, "3.2,5.3"],
    ["Predicted CHELSEY ARNELL: 11.3", "#0000ff", 0.6, "3.2,5.3"]
  ];
  var lx = left + 8.5, ly = top + 6.3;
  g.append("rect").attr("x", lx).attr("y", ly).attr("width", 306).attr("height", 95)
    .attr("rx", 3).attr("fill", "#fff").attr("fill-opacity", 0.8)
    .attr("stroke", "#ccc").attr("stroke-width", 1);
  legendItems.forEach(function(it, i) {
    var hy = ly + 14 + i * 22;
    g.append("line").attr("x1", lx + 5.5).attr("x2", lx + 37).attr("y1", hy).attr("y2", hy)
      .attr("stroke", it[1]).attr("stroke-opacity", it[2]).attr("stroke-width", 3.1)
      .attr("stroke-dasharray", it[3]);
    g.append("text").attr("x", lx + 46.5).attr("y", hy).attr("dy", "0.35em")
      .attr("font-size", 14.5).attr("fill", "#000").text(it[0]);
  });

  svg.append("text").attr("transform", "translate(41," + ((top + bottom) / 2) + ") rotate(-90)")
    .attr("text-anchor", "middle").attr("dy", "0.35em").attr("font-size", 15).text("Count");
  svg.append("text").attr("x", (left + right) / 2).attr("y", 1471)
    .attr("text-anchor", "middle").attr("font-size", 20.8).attr("fill", "#000").text("Fight time (seconds)");
})();
</script>
</body>
</html>
